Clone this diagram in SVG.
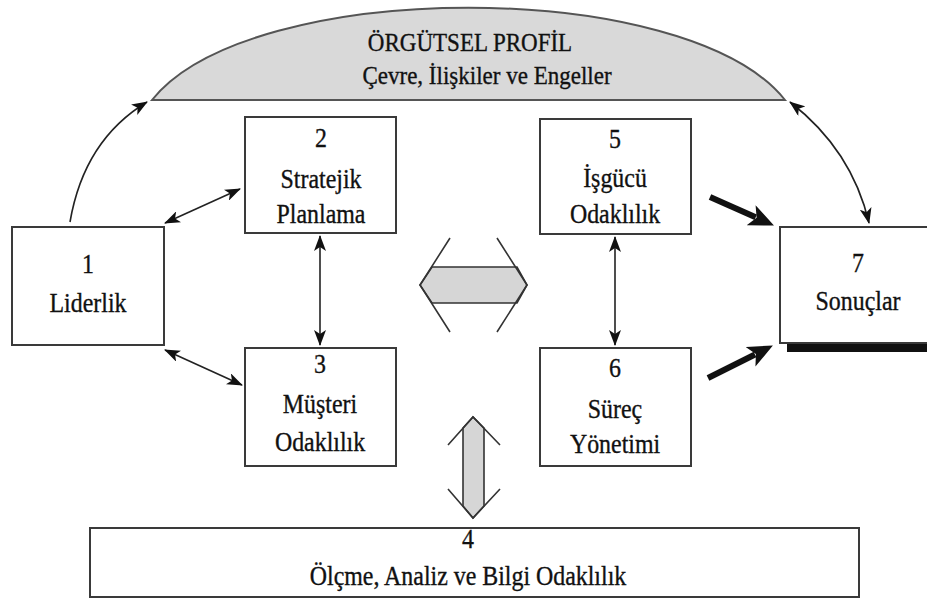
<svg xmlns="http://www.w3.org/2000/svg" width="927" height="601" viewBox="0 0 927 601">
<style>
.box{fill:#fff;stroke:#3a3a3a;stroke-width:2}
.t{font-family:"Liberation Serif","Times New Roman",serif;font-size:27px;fill:#111;stroke:#111;stroke-width:0.35;text-anchor:middle}
.ta{font-family:"Liberation Serif","Times New Roman",serif;font-size:26px;fill:#111;stroke:#111;stroke-width:0.35;text-anchor:middle}
.thin{fill:none;stroke:#222;stroke-width:1.6}
.thick{fill:none;stroke:#111;stroke-width:6}
.hollow{fill:#d6d6d6;stroke:#333;stroke-width:1.6}
.hl{fill:none;stroke:#333;stroke-width:1.6}
</style>
<defs>
<marker id="ah" viewBox="0 0 16 12" refX="15" refY="6" markerWidth="16" markerHeight="12" markerUnits="userSpaceOnUse" orient="auto-start-reverse">
<path d="M0,0 L16,6 L0,12 L4,6 z" fill="#111"/>
</marker>
<marker id="bh" viewBox="0 0 26 22" refX="5" refY="11" markerWidth="26" markerHeight="22" markerUnits="userSpaceOnUse" orient="auto">
<path d="M0,0 L25,11 L0,22 L6,11 z" fill="#111"/>
</marker>
</defs>

<g id="profil">
<path d="M152,100 C250,-23 687,-23 785,100 Z" fill="#d9d9d9" stroke="#555" stroke-width="2"/>
<text class="ta" transform="translate(470,51) scale(0.885,1)">ÖRGÜTSEL PROFİL</text>
<text class="ta" transform="translate(487,84) scale(0.885,1)">Çevre, İlişkiler ve Engeller</text>
</g>

<g id="node1">
<rect class="box" x="12" y="227" width="152" height="118"/>
<text class="t" transform="translate(88,273) scale(0.885,1)">1</text>
<text class="t" transform="translate(88,312) scale(0.885,1)">Liderlik</text>
</g>

<g id="node2">
<rect class="box" x="245" y="117" width="151" height="116"/>
<text class="t" transform="translate(321,147) scale(0.885,1)">2</text>
<text class="t" transform="translate(321,188) scale(0.885,1)">Stratejik</text>
<text class="t" transform="translate(321,223) scale(0.885,1)">Planlama</text>
</g>

<g id="node3">
<rect class="box" x="245" y="348" width="151" height="118"/>
<text class="t" transform="translate(320,373) scale(0.885,1)">3</text>
<text class="t" transform="translate(320,413) scale(0.885,1)">Müşteri</text>
<text class="t" transform="translate(320,451) scale(0.885,1)">Odaklılık</text>
</g>

<g id="node5">
<rect class="box" x="540" y="119" width="151" height="115"/>
<text class="t" transform="translate(615,148) scale(0.885,1)">5</text>
<text class="t" transform="translate(615,187) scale(0.885,1)">İşgücü</text>
<text class="t" transform="translate(615,223) scale(0.885,1)">Odaklılık</text>
</g>

<g id="node6">
<rect class="box" x="540" y="348" width="151" height="118"/>
<text class="t" transform="translate(615,377) scale(0.885,1)">6</text>
<text class="t" transform="translate(615,418) scale(0.885,1)">Süreç</text>
<text class="t" transform="translate(615,453) scale(0.885,1)">Yönetimi</text>
</g>

<g id="node7">
<rect x="787" y="343" width="145" height="9" fill="#111"/>
<rect class="box" x="780" y="227" width="152" height="116"/>
<text class="t" transform="translate(858,272) scale(0.885,1)">7</text>
<text class="t" transform="translate(858,310) scale(0.885,1)">Sonuçlar</text>
</g>

<g id="node4">
<rect class="box" x="90" y="528" width="769" height="69"/>
<text class="t" transform="translate(468,548) scale(0.885,1)">4</text>
<text class="t" transform="translate(468,585) scale(0.885,1)">Ölçme, Analiz ve Bilgi Odaklılık</text>
</g>

<g id="connectors">
<path class="thin" d="M70,222 Q84,140 147,102" marker-end="url(#ah)"/>
<path class="thin" d="M165,223 L240,189" marker-start="url(#ah)" marker-end="url(#ah)"/>
<path class="thin" d="M165,350 L242,385" marker-start="url(#ah)" marker-end="url(#ah)"/>
<path class="thin" d="M320,236 L320,345" marker-start="url(#ah)" marker-end="url(#ah)"/>
<path class="thin" d="M615,237 L615,345" marker-start="url(#ah)" marker-end="url(#ah)"/>
<path class="thin" d="M790,102 Q852,150 869,223" marker-start="url(#ah)" marker-end="url(#ah)"/>
<path class="thick" d="M710,197 L755.7,217.3" marker-end="url(#bh)"/>
<path class="thick" d="M708,378 L755,354.5" marker-end="url(#bh)"/>
<path class="hollow" d="M432,267 L517,267 L527,285 L517,303 L432,303 L420,285 Z"/>
<path class="hl" d="M450,238 L420,285 L450,332 M497,238 L527,285 L497,332"/>
<path class="hollow" d="M463,428 L473,417 L484,428 L484,506 L473,518 L463,506 Z"/>
<path class="hl" d="M448,445 L473,417 L500,445 M448,489 L473,518 L500,489"/>
</g>
</svg>
